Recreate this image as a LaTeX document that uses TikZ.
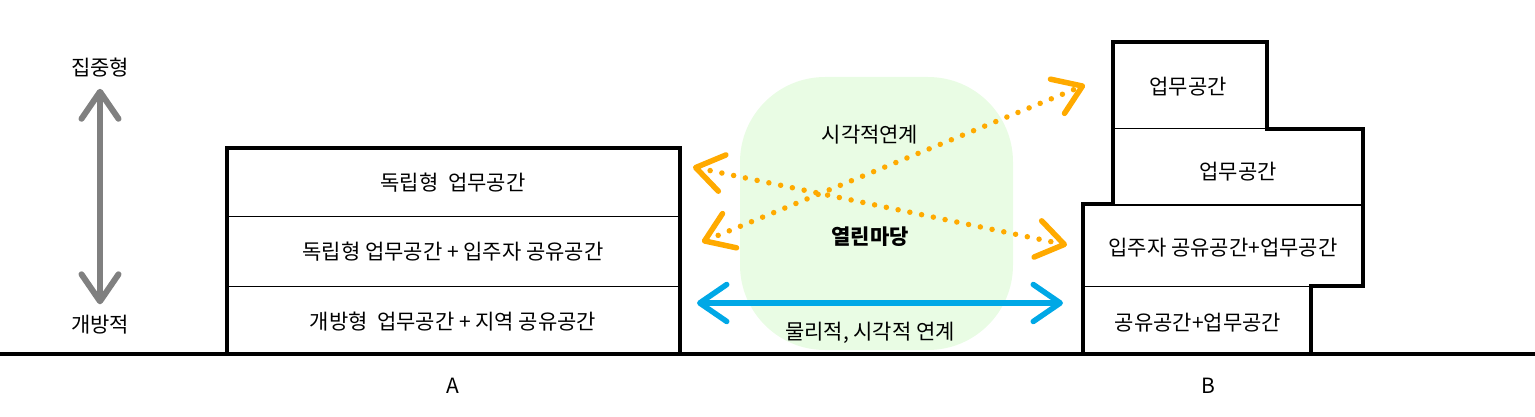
\documentclass[tikz,border=0pt]{standalone}
\usepackage{fontspec}
\setmainfont{Noto Sans CJK KR}
\usetikzlibrary{arrows.meta}
\definecolor{linkorange}{RGB}{255,170,0}
\definecolor{linkblue}{RGB}{0,168,230}
\definecolor{axisgray}{RGB}{128,128,128}
\definecolor{yardgreen}{RGB}{233,252,228}
\tikzset{
  roomtext/.style = {font=\fontsize{21}{24}\selectfont, inner sep=0pt},
  yardtext/.style = {roomtext, font=\fontsize{21}{24}\selectfont\bfseries},
  wall/.style     = {line width=4.5pt, line join=miter},
  floorline/.style= {line width=1pt},
  twoway/.style   = {{Straight Barb[length=27pt,width=37pt,round]}-{Straight Barb[length=27pt,width=37pt,round]},
                     line width=5.5pt},
  dotlink/.style  = {twoway, draw=linkorange, line width=5.5pt,
                     line cap=round, dash pattern=on 0pt off 12pt}
}

\begin{document}
\begin{tikzpicture}[x=1pt,y=-1pt]
\useasboundingbox (0,0) rectangle (1535,417);

% open yard behind the links
\fill[yardgreen, rounded corners=85pt] (740,77) rectangle (1013,350);

% -------------------- Ground --------------------
\draw[line width=4pt] (0,354) -- (1535,354);

% -------------------- Building A --------------------
\draw[wall] (227,354) |- (680,148) -- (680,354);
\foreach \y in {216,286}{
  \draw[floorline] (227,\y) -- (680,\y);
}
\foreach \y/\name [count=\ai] in {183/{독립형\ \ 업무공간},
                                  252/{독립형 업무공간 + 입주자 공유공간},
                                  322/{개방형\ \ 업무공간 + 지역 공유공간}}{
  \node[roomtext] (roomA\ai) at (453,\y) {\name};
}
\node[roomtext] (nameA) at (453,386) {A};

% -------------------- Building B --------------------
\draw[wall] (1083,354) |- (1113,204) |- (1267,42) |- (1363,129)
            |- (1311,286) -- (1311,354);
\draw[floorline] (1113,129) -- (1267,129);
\draw[floorline] (1113,205) -- (1363,205);
\draw[floorline] (1083,286) -- (1311,286);
\foreach \x/\y/\name [count=\bi] in {1188/87/{업무공간},
                                     1238/172/{업무공간},
                                     1223/248/{입주자 공유공간+업무공간},
                                     1198/323/{공유공간+업무공간}}{
  \node[roomtext] (roomB\bi) at (\x,\y) {\name};
}
\node[roomtext] (nameB) at (1208,386) {B};

% -------------------- Scale on the left --------------------
\node[roomtext] (dense) at (100,68)  {집중형};
\node[roomtext] (open)  at (100,325) {개방적};
\draw[twoway, draw=axisgray, line width=6pt, shorten <=11pt, shorten >=11pt]
  (dense.south) -- (open.north);

% -------------------- Links through the yard --------------------
\node[roomtext] (seeLink)  at (870,135) {시각적연계};
\node[yardtext] (yard)     at (870,237) {열린마당};
\node[roomtext] (walkLink) at (870,333) {물리적, 시각적 연계};

\coordinate (riseFrom) at (702,242);
\coordinate (riseTo)   at (1085,85);
\coordinate (fallFrom) at (693,167);
\coordinate (fallTo)   at (1067,245);
\coordinate (walkFrom) at (697,303);
\coordinate (walkTo)   at (1063,303);

\draw[dotlink] (riseFrom) -- (riseTo);
\draw[dotlink] (fallFrom) -- (fallTo);
\draw[twoway, draw=linkblue] (walkFrom) -- (walkTo);

\end{tikzpicture}
\end{document}
